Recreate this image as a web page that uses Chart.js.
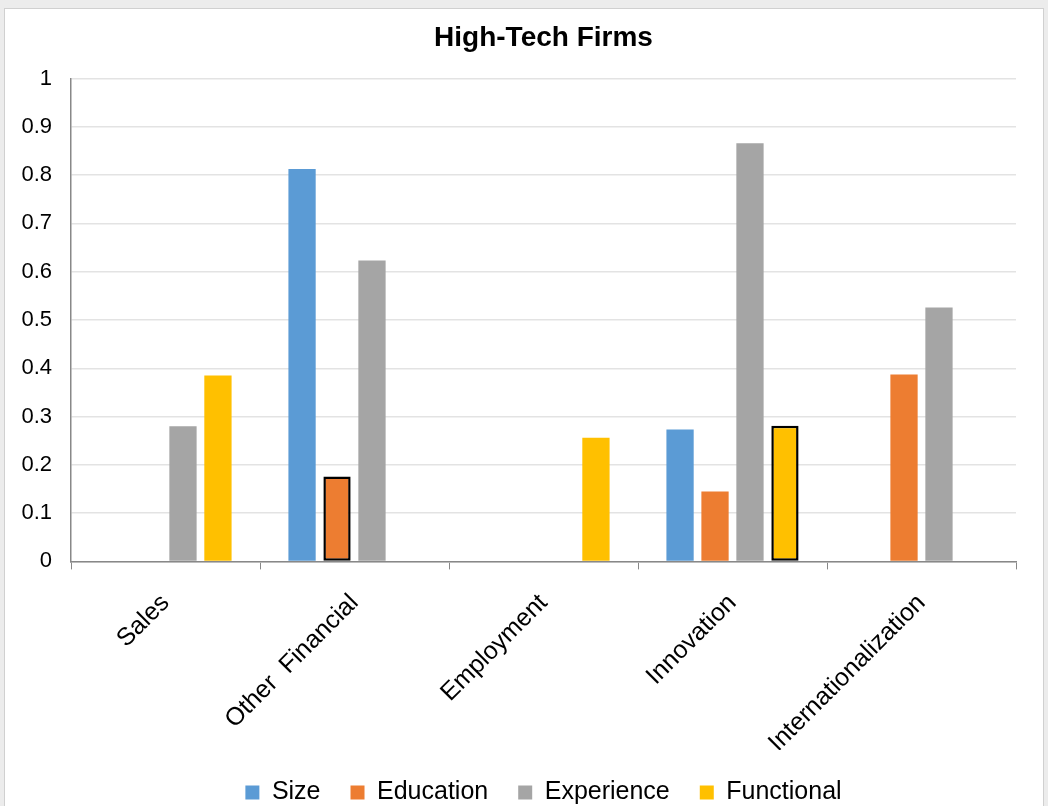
<!DOCTYPE html>
<html>
<head>
<meta charset="utf-8">
<script src="https://cdn.jsdelivr.net/npm/chart.js@4"></script>
<style>
  html, body { margin: 0; padding: 0; background: #ececec; }
  #wrap { position: absolute; left: 4px; top: 8px; width: 1040px; height: 800px; background: #fff; border: 1px solid #d0d0d0; box-sizing: border-box; }
  canvas { display: block; }
</style>
</head>
<body>
<div id="wrap"><canvas id="chart" width="1038" height="798"></canvas></div>
<script>
// categories + series values
var categories = ['Sales', 'Other  Financial', 'Employment', 'Innovation', 'Internationalization'];
var sizeVals = [0, 0.813, 0, 0.273, 0];
var educationVals = [0, 0.176, 0, 0.145, 0.387];
var experienceVals = [0.28, 0.623, 0, 0.866, 0.526];
var functionalVals = [0.385, 0, 0.256, 0.281, 0];
// bars outlined in black
var educationBorder = [0, 2.5, 0, 0, 0];
var functionalBorder = [0, 0, 0, 2.5, 0];

function ds(label, data, color, border) {
  return {
    label: label,
    data: data,
    backgroundColor: color,
    borderColor: '#000',
    borderWidth: border || 0,
    borderSkipped: false,
    categoryPercentage: 0.74,
    barPercentage: 0.78
  };
}

var font = 'Liberation Sans, Arial, sans-serif';

new Chart(document.getElementById('chart').getContext('2d'), {
  type: 'bar',
  data: {
    labels: categories,
    datasets: [
      ds('Size', sizeVals, '#5b9bd5'),
      ds('Education', educationVals, '#ed7d31', educationBorder),
      ds('Experience', experienceVals, '#a5a5a5'),
      ds('Functional', functionalVals, '#ffc000', functionalBorder)
    ]
  },
  options: {
    responsive: false,
    animation: false,
    layout: { padding: { left: 16, right: 27, top: 4, bottom: -8 } },
    plugins: {
      title: {
        display: true,
        fullSize: false,
        text: 'High-Tech Firms',
        color: '#000',
        font: { family: font, size: 28, weight: 'bold' },
        padding: { top: 8, bottom: 24 }
      },
      legend: {
        position: 'bottom',
        fullSize: false,
        labels: {
          color: '#000',
          font: { family: font, size: 25 },
          boxWidth: 14,
          boxHeight: 14,
          padding: 30
        }
      },
      tooltip: { enabled: false }
    },
    scales: {
      x: {
        // rotated labels: keep plot close to the y axis, trim the over-estimated label box
        afterFit: function (scale) {
          scale.paddingLeft = 0;
          scale.paddingRight = 0;
          scale.height = scale.height - 27;
        },
        grid: { offset: true, drawOnChartArea: false, drawTicks: true, tickLength: 8, color: '#888' },
        border: { color: '#888', width: 1.5 },
        ticks: { color: '#000', font: { family: font, size: 25 }, minRotation: 45, maxRotation: 45, padding: 19 }
      },
      y: {
        min: 0,
        max: 1,
        afterFit: function (scale) { scale.width = 50; },
        grid: { color: '#e3e3e3', lineWidth: 1.5, drawTicks: false },
        border: { color: '#888', width: 1.5 },
        ticks: {
          stepSize: 0.1,
          color: '#000',
          padding: 19,
          font: { family: font, size: 22 },
          callback: function (v) { return Math.round(v * 10) / 10; }
        }
      }
    }
  }
});
</script>
</body>
</html>
